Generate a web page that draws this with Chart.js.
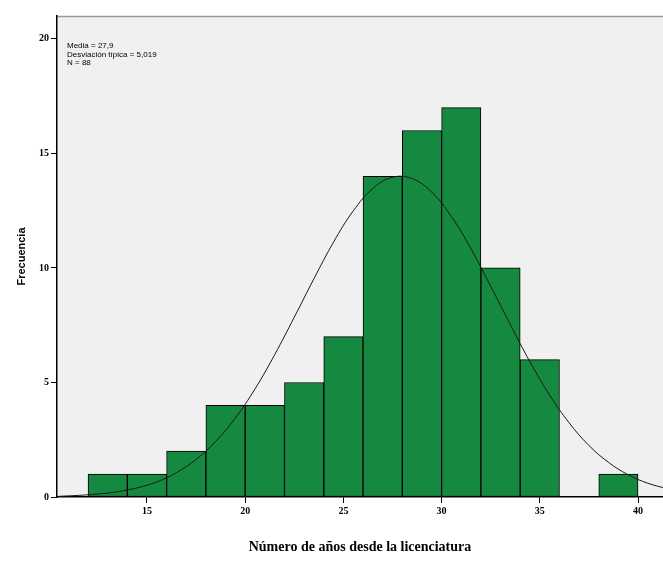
<!DOCTYPE html>
<html>
<head>
<meta charset="utf-8">
<script src="https://cdn.jsdelivr.net/npm/chart.js@4.4.1/dist/chart.umd.min.js"></script>
<style>
  html, body { margin: 0; padding: 0; background: #ffffff; }
  canvas { display: block; }
</style>
</head>
<body>
<canvas id="histChart" width="663" height="585"></canvas>
<script>
// histogram bins (midpoints of 2-year bins) and counts
const binMids = [13, 15, 17, 19, 21, 23, 25, 27, 29, 31, 33, 35, 37, 39];
const counts  = [1, 1, 2, 4, 4, 5, 7, 14, 16, 17, 10, 6, 0, 1];

// normal curve
const curveX = [10.5, 11.5, 12.5, 13.5, 14.5, 15.5, 16.5, 17.5, 18.5, 19.5, 20.5, 21.5, 22.5, 23.5, 24.5, 25.5,
                26.5, 27.5, 28.5, 29.5, 30.5, 31.5, 32.5, 33.5, 34.5, 35.5, 36.5, 37.5, 38.5, 39.5, 40.5, 41.5];
const curveY = [0.03, 0.07, 0.13, 0.23, 0.40, 0.66, 1.06, 1.64, 2.43, 3.45, 4.72, 6.21, 7.85, 9.53, 11.13, 12.49,
                13.47, 13.96, 13.90, 13.31, 12.24, 10.83, 9.20, 7.52, 5.90, 4.45, 3.23, 2.25, 1.51, 0.97, 0.60, 0.36];

const xTicks = [15, 20, 25, 30, 35, 40];
const yTicks = [0, 5, 10, 15, 20];

const statLines = ["Media = 27,9", "Desviación típica = 5,019", "N = 88"];

const ctx = document.getElementById('histChart').getContext('2d');

const plotBackground = {
    id: 'plotBackground',
    beforeDraw(chart) {
        const { ctx, chartArea: a } = chart;
        ctx.save();
        ctx.fillStyle = '#f0f0f0';
        ctx.fillRect(a.left, a.top, a.right - a.left, a.bottom - a.top);
        ctx.strokeStyle = '#9a9a9a';
        ctx.lineWidth = 1.5;
        ctx.beginPath();
        ctx.moveTo(a.left, a.top + 0.5);
        ctx.lineTo(a.right, a.top + 0.5);
        ctx.stroke();
        ctx.restore();
    },
    afterDraw(chart) {
        const { ctx, chartArea: a } = chart;
        ctx.save();
        ctx.fillStyle = '#000';
        ctx.font = '8px "Liberation Sans", Arial, sans-serif';
        ctx.textBaseline = 'middle';
        statLines.forEach((t, i) => ctx.fillText(t, a.left + 10, a.top + 30 + i * 8.5));
        ctx.restore();
    }
};

new Chart(ctx, {
    data: {
        datasets: [
            {
                type: 'line',
                data: curveX.map((x, i) => ({ x, y: curveY[i] })),
                borderColor: '#1a1a1a',
                borderWidth: 1,
                pointRadius: 0,
                tension: 0.4,
                order: 0
            },
            {
                type: 'bar',
                data: binMids.map((x, i) => ({ x, y: counts[i] })),
                backgroundColor: '#15893f',
                borderColor: '#000000',
                borderWidth: 1,
                borderSkipped: false,
                barPercentage: 1,
                categoryPercentage: 1,
                order: 1
            }
        ]
    },
    options: {
        responsive: false,
        animation: false,
        layout: { padding: { top: 16, left: 0, right: 0, bottom: 0 } },
        plugins: {
            legend: { display: false },
            tooltip: { enabled: false }
        },
        scales: {
            x: {
                type: 'linear',
                offset: false,
                min: 10.42,
                max: 41.27,
                afterBuildTicks: s => { s.ticks = xTicks.map(v => ({ value: v })); },
                afterFit: s => { s.height = 88; },
                grid: { drawOnChartArea: false, offset: false, tickLength: 6, color: '#000' },
                border: { color: '#000', width: 1.5 },
                ticks: {
                    color: '#000',
                    padding: 2,
                    maxRotation: 0,
                    font: { family: '"Liberation Serif", serif', size: 10, weight: 'bold' }
                },
                title: {
                    display: true,
                    text: 'Número de años desde la licenciatura',
                    color: '#000',
                    font: { family: '"Liberation Serif", "Times New Roman", serif', size: 14, weight: 'bold' },
                    padding: { top: 0, bottom: 29 }
                }
            },
            y: {
                min: 0,
                max: 21,
                afterBuildTicks: s => { s.ticks = yTicks.map(v => ({ value: v })); },
                afterFit: s => { s.width = 57; },
                grid: { drawOnChartArea: false, tickLength: 6, color: '#000' },
                border: { color: '#000', width: 1.5 },
                ticks: {
                    color: '#000',
                    padding: 2,
                    font: { family: '"Liberation Serif", serif', size: 10, weight: 'bold' }
                },
                title: {
                    display: true,
                    text: 'Frecuencia',
                    color: '#000',
                    font: { family: '"Liberation Sans", Arial, sans-serif', size: 11, weight: 'bold' },
                    padding: { top: 15, bottom: 0 }
                }
            }
        }
    },
    plugins: [plotBackground]
});
</script>
</body>
</html>
